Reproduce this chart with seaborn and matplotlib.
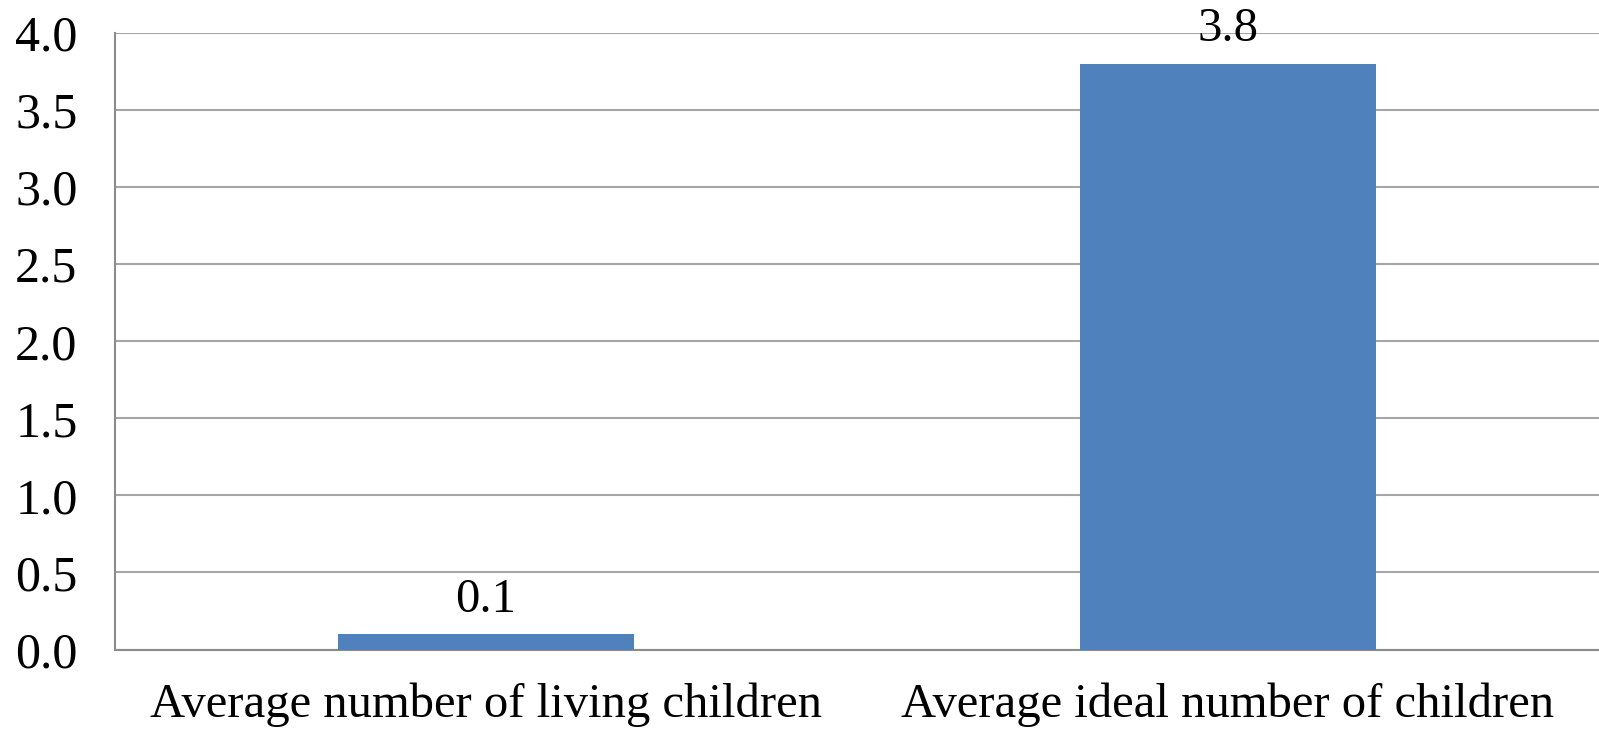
import matplotlib
matplotlib.use("Agg")
import matplotlib.pyplot as plt
import seaborn as sns
import pandas as pd

categories = ["Average number of living children", "Average ideal number of children"]
values = [0.1, 3.8]
y_ticks = [0.0, 0.5, 1.0, 1.5, 2.0, 2.5, 3.0, 3.5, 4.0]

sns.set_theme(style="white")
plt.rcParams["font.family"] = ["Liberation Serif", "DejaVu Serif"]

df = pd.DataFrame({"category": categories, "value": values})

fig = plt.figure(figsize=(15.99, 7.30), dpi=100)
ax = fig.add_axes([115 / 1599, 1 - 649.5 / 730, 1484 / 1599, (649.5 - 33) / 730])

sns.barplot(data=df, x="category", y="value", color="#4F81BD", saturation=1,
            width=0.4, linewidth=0, edgecolor="none", ax=ax, zorder=3)

ax.set_ylim(0, 4.0)
ax.set_xlim(-0.5, 1.5)
ax.set_yticks(y_ticks)
ax.set_yticklabels([f"{t:.1f}" for t in y_ticks])
ax.yaxis.grid(True, color="#A6A6A6", linewidth=1.5, zorder=0)
ax.set_axisbelow(True)

for side in ["top", "right"]:
    ax.spines[side].set_visible(False)
for side in ["left", "bottom"]:
    ax.spines[side].set_color("#8C8C8C")
    ax.spines[side].set_linewidth(1.5)

ax.tick_params(axis="y", length=0, labelsize=36, colors="black", pad=27)
ax.tick_params(axis="x", length=0, labelsize=35, colors="black", pad=24)
ax.set_xlabel("")
ax.set_ylabel("")

for i, v in enumerate(values):
    ax.annotate(f"{v:.1f}", xy=(i, v), xytext=(0, 9), textcoords="offset points",
                ha="center", va="bottom", fontsize=35, color="black")

fig.savefig("out.png", dpi=100)
